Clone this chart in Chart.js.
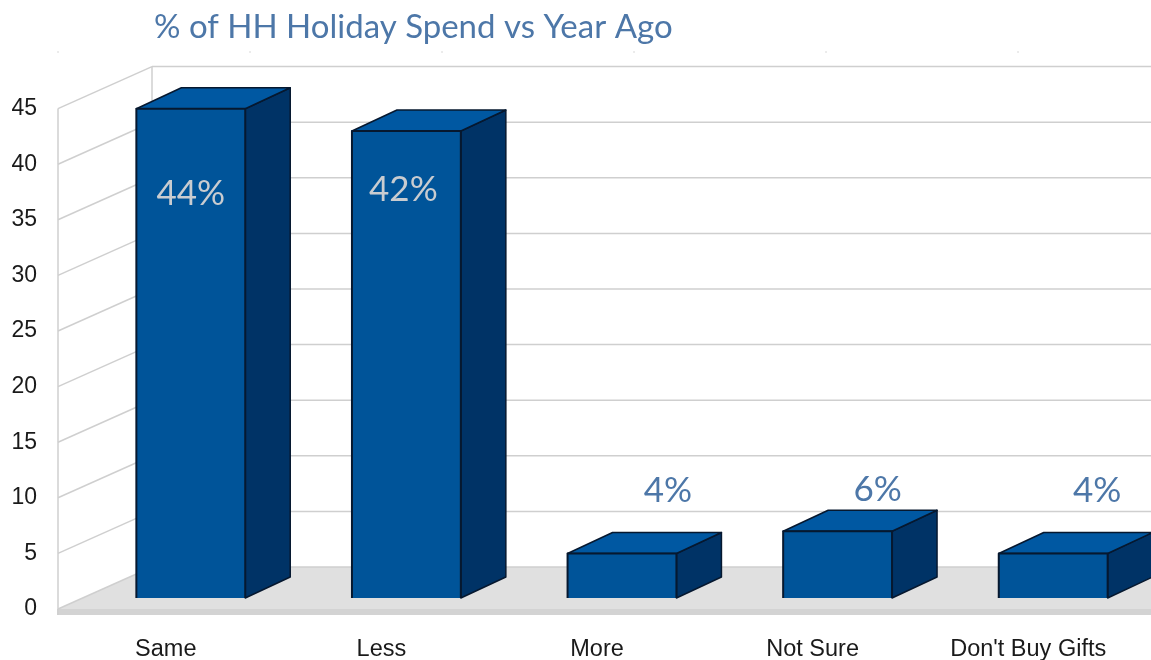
<!DOCTYPE html>
<html>
<head>
<meta charset="utf-8">
<title>% of HH Holiday Spend vs Year Ago</title>
<script src="https://cdn.jsdelivr.net/npm/chart.js@4/dist/chart.umd.min.js"></script>
<style>
    html, body { margin: 0; padding: 0; background: #fff; overflow: hidden; }
    #wrap { width: 1151px; height: 660px; }
</style>
</head>
<body>
<div id="wrap"><canvas id="spendChart"></canvas></div>
<script>
// Survey answers and share of households
const categories = ['Same', 'Less', 'More', 'Not Sure', "Don't Buy Gifts"];
const shareValues = [44, 42, 4, 6, 4];
const yMax = 45;
const yStep = 5;
const chartTitle = '% of HH Holiday Spend vs Year Ago';

// Depth of the floor and of the bars, in pixels
const WALL_DX = 94, WALL_DY = 42;
const BAR_SHIFT_X = 25, BAR_SHIFT_Y = 11;
const BAR_DX = 45, BAR_DY = 21;
const EDGE_COLOR = '#06182f';

// Where each percent label sits relative to the top middle of its bar
const labelOffsets = [[0, 85], [-3, 59], [46, -63], [40, -42], [44, -63]];
const labelColors = ['#c9ccd0', '#c9ccd0', '#4d77a8', '#4d77a8', '#4d77a8'];

function poly(ctx, pts, fill, stroke, lineWidth) {
    ctx.beginPath();
    pts.forEach((p, i) => i ? ctx.lineTo(p[0], p[1]) : ctx.moveTo(p[0], p[1]));
    ctx.closePath();
    if (fill) {
        ctx.fillStyle = fill;
        ctx.fill();
    }
    if (stroke) {
        ctx.strokeStyle = stroke;
        ctx.lineWidth = lineWidth || 1;
        ctx.lineJoin = 'round';
        ctx.stroke();
    }
}

function line(ctx, x1, y1, x2, y2) {
    ctx.beginPath();
    ctx.moveTo(x1, y1);
    ctx.lineTo(x2, y2);
    ctx.stroke();
}

// Back wall, side wall and floor
const wallsPlugin = {
    id: 'walls',
    beforeDatasetsDraw(chart) {
        const { ctx, chartArea, scales } = chart;
        const yScale = scales.y;
        const left = chartArea.left, edge = chart.width;
        const floorY = yScale.getPixelForValue(0);

        ctx.save();
        poly(ctx, [[left, floorY], [left + WALL_DX, floorY - WALL_DY], [edge, floorY - WALL_DY], [edge, floorY]], '#e0e0e0');
        ctx.fillStyle = '#d3d3d3';
        ctx.fillRect(left - 1, floorY, edge - left + 1, 6);

        ctx.strokeStyle = '#cfcfcf';
        ctx.lineWidth = 1.5;
        for (let v = 0; v <= yMax; v += yStep) {
            const y = yScale.getPixelForValue(v);
            line(ctx, left, y, left + WALL_DX, y - WALL_DY);
            line(ctx, left + WALL_DX, y - WALL_DY, edge, y - WALL_DY);
        }
        const top = yScale.getPixelForValue(yMax);
        line(ctx, left, top, left, floorY + 6);
        line(ctx, left + WALL_DX, top - WALL_DY, left + WALL_DX, floorY - WALL_DY);

        // small marks in the strip above the walls
        ctx.strokeStyle = '#d8d8d8';
        ctx.lineWidth = 1;
        for (let x = left; x < edge; x += 192) {
            line(ctx, x, 51, x, 53);
        }
        ctx.restore();
    }
};

// Side and top faces go under the bar; the library then draws the front face moved into the room
const boxPlugin = {
    id: 'box',
    beforeDatasetDraw(chart, args) {
        const { ctx } = chart;
        ctx.save();
        args.meta.data.forEach(bar => {
            const x0 = bar.x - bar.width / 2 + BAR_SHIFT_X;
            const x1 = bar.x + bar.width / 2 + BAR_SHIFT_X;
            const top = bar.y - BAR_SHIFT_Y;
            const base = bar.base - BAR_SHIFT_Y;
            poly(ctx, [[x1, top], [x1 + BAR_DX, top - BAR_DY], [x1 + BAR_DX, base - BAR_DY], [x1, base]], '#003366', EDGE_COLOR, 1.5);
            poly(ctx, [[x0, top], [x0 + BAR_DX, top - BAR_DY], [x1 + BAR_DX, top - BAR_DY], [x1, top]], '#0058a2', EDGE_COLOR, 1.5);
        });
        ctx.translate(BAR_SHIFT_X, -BAR_SHIFT_Y);
    },
    afterDatasetDraw(chart, args) {
        const { ctx } = chart;
        // dark edge on the left, top and right of the front face
        ctx.strokeStyle = EDGE_COLOR;
        ctx.lineWidth = 2;
        ctx.lineJoin = 'round';
        args.meta.data.forEach(bar => {
            const x0 = bar.x - bar.width / 2;
            const x1 = bar.x + bar.width / 2;
            ctx.beginPath();
            ctx.moveTo(x0, bar.base);
            ctx.lineTo(x0, bar.y);
            ctx.lineTo(x1, bar.y);
            ctx.lineTo(x1, bar.base);
            ctx.stroke();
        });
        ctx.restore();
    }
};

// Percent labels
const percentLabelPlugin = {
    id: 'percentLabels',
    afterDatasetsDraw(chart) {
        const { ctx } = chart;
        ctx.save();
        ctx.font = '35px Lato';
        ctx.textAlign = 'center';
        ctx.textBaseline = 'middle';
        chart.getDatasetMeta(0).data.forEach((bar, i) => {
            ctx.fillStyle = labelColors[i];
            const x = bar.x + BAR_SHIFT_X + labelOffsets[i][0];
            const y = bar.y - BAR_SHIFT_Y + labelOffsets[i][1];
            ctx.fillText(shareValues[i] + '%', x, y);
        });
        ctx.restore();
    }
};

// The title lines up with the back wall, not the plot area
const titlePlacePlugin = {
    id: 'titlePlace',
    afterLayout(chart) {
        chart.titleBlock.left = 154;
    }
};

new Chart(document.getElementById('spendChart').getContext('2d'), {
    type: 'bar',
    data: {
        labels: categories,
        datasets: [{
            data: shareValues,
            backgroundColor: '#005499',
            borderWidth: 0,
            barPercentage: 0.505,
            categoryPercentage: 1,
            clip: false
        }]
    },
    options: {
        responsive: true,
        maintainAspectRatio: false,
        animation: false,
        layout: { padding: { right: 15 } },
        plugins: {
            legend: { display: false },
            tooltip: { enabled: false },
            title: {
                display: true,
                text: chartTitle,
                align: 'start',
                color: '#4d77a8',
                font: { family: 'Lato', size: 33, weight: 'normal' },
                padding: { top: 8, bottom: 61 }
            }
        },
        scales: {
            x: {
                grid: { display: false },
                border: { display: false },
                afterFit(scale) { scale.height = 51; },
                ticks: {
                    color: '#1a1a1a',
                    font: { family: 'Liberation Sans', size: 23.5 },
                    padding: 18,
                    maxRotation: 0,
                    autoSkip: false
                }
            },
            y: {
                min: 0,
                max: yMax,
                grid: { display: false },
                border: { display: false },
                afterFit(scale) { scale.width = 58; },
                ticks: {
                    stepSize: yStep,
                    color: '#1a1a1a',
                    font: { family: 'Liberation Sans', size: 23 },
                    padding: 13
                }
            }
        }
    },
    plugins: [wallsPlugin, boxPlugin, percentLabelPlugin, titlePlacePlugin]
});
</script>
</body>
</html>
